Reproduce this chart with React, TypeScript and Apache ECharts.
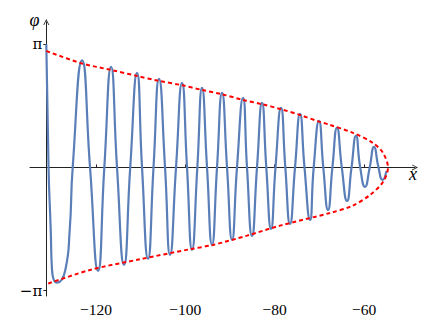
import React, { useEffect, useRef } from "react";
import * as echarts from "echarts";

// oscillation phi(x): read at start, zero crossings, peaks and troughs
const phiCurve: [number, number][] = [
  [-131.13, 3.1416], [-130.63, 0], [-130.14, -1.594], [-129.85, -2.615], [-128.73, -2.939],
  [-126.87, -2.615], [-125.89, -1.594], [-125.22, 0], [-123.13, 2.73], [-121.34, 0],
  [-119.55, -2.64], [-118.14, 0], [-116.64, 2.564], [-115.3, 0], [-113.73, -2.487],
  [-112.34, 0], [-110.82, 2.411], [-109.7, 0], [-108.36, -2.334], [-107.13, 0],
  [-105.9, 2.258], [-104.55, 0], [-103.43, -2.232], [-102.09, 0], [-100.75, 2.156],
  [-99.63, 0], [-98.51, -2.105], [-97.32, 0], [-96.27, 2.028], [-95.15, 0],
  [-94.03, -1.977], [-92.91, 0], [-91.79, 1.901], [-90.67, 0], [-89.55, -1.849],
  [-88.44, 0], [-87.09, 1.773], [-86.2, 0], [-85.08, -1.747], [-83.96, 0],
  [-82.84, 1.645], [-81.88, 0], [-80.82, -1.569], [-79.82, 0], [-78.59, 1.518],
  [-77.62, 0], [-76.57, -1.441], [-75.45, 0], [-74.33, 1.365], [-73.33, 0],
  [-72.09, -1.339], [-71.27, 0], [-70.08, 1.186], [-69.12, 0], [-68.06, -1.084],
  [-67.08, 0], [-66.05, 1.008], [-64.98, 0], [-63.81, -0.855], [-62.8, 0],
  [-61.8, 0.804], [-60.86, 0], [-59.78, -0.497], [-58.73, 0], [-57.77, 0.523],
  [-56.76, 0], [-55.86, -0.319], [-54.97, -0.089],
];

// dashed envelope, upper branch (left to tip)
const envelopeUpper: [number, number][] = [
  [-131.13, 2.97], [-123.13, 2.653], [-116.64, 2.487], [-110.82, 2.334], [-105.9, 2.207],
  [-100.75, 2.097], [-96.27, 1.977], [-91.79, 1.867], [-87.09, 1.722], [-82.84, 1.612],
  [-78.59, 1.485], [-74.33, 1.339], [-70.08, 1.168], [-68.06, 1.102], [-62.47, 0.88],
  [-57.99, 0.625], [-55.75, 0.37], [-54.63, 0],
];
// lower branch (tip back to left)
const envelopeLower: [number, number][] = [
  [-55.75, -0.37], [-58.66, -0.702], [-62.69, -0.982], [-67.62, -1.161], [-78.81, -1.485],
  [-86.2, -1.74], [-93.81, -1.977], [-98.96, -2.087], [-110.15, -2.342], [-121.34, -2.615],
  [-130.52, -2.954], [-131.13, -2.97],
];

const xTicks = [-120, -100, -80, -60];
const yTicks = [-Math.PI, Math.PI];

const FONT = "Liberation Serif";
const FONT_PI = "DejaVu Serif";
const AXIS = "#222";
const chevron = "path://M0,10 L5,0 L10,10 L8.6,10 L5,2.8 L1.4,10 Z";

export default function App() {
  const ref = useRef<HTMLDivElement>(null);
  useEffect(() => {
    const chart = echarts.init(ref.current!, null, { renderer: "svg" });
    chart.setOption({
      animation: false,
      textStyle: { fontFamily: FONT },
      grid: { left: 30, right: 21, top: 22, bottom: 21, containLabel: false },
      xAxis: {
        type: "value",
        min: -134.78,
        max: -48.59,
        axisLine: {
          onZero: true,
          lineStyle: { color: AXIS, width: 1 },
          symbol: ["none", chevron],
          symbolSize: [7, 6],
        },
        axisTick: { customValues: xTicks, inside: true, length: 3, lineStyle: { color: AXIS } },
        axisLabel: {
          customValues: xTicks,
          margin: 5,
          color: "#000",
          fontFamily: FONT,
          fontSize: 15.5,
          formatter: (v: number) => (v < 0 ? "\u2212" + Math.abs(v) : String(v)),
        },
        splitLine: { show: false },
      },
      yAxis: {
        type: "value",
        min: -3.28,
        max: 3.71,
        offset: -16.3,
        axisLine: {
          show: true,
          onZero: false,
          lineStyle: { color: AXIS, width: 1 },
          symbol: ["none", chevron],
          symbolSize: [7, 6],
        },
        axisTick: { show: true, customValues: yTicks, length: 3, lineStyle: { color: AXIS } },
        axisLabel: {
          customValues: yTicks,
          margin: 4,
          color: "#000",
          fontFamily: FONT_PI,
          fontSize: 15,
          formatter: (v: number) => (v < 0 ? "\u2212\u03c0" : "\u03c0"),
        },
        splitLine: { show: false },
      },
      series: [
        {
          type: "line",
          data: phiCurve,
          smooth: 0.55,
          showSymbol: false,
          lineStyle: { color: "#5a7fb8", width: 2.2 },
          z: 2,
        },
        {
          type: "line",
          data: [...envelopeUpper, ...envelopeLower],
          smooth: 0.3,
          showSymbol: false,
          lineStyle: { color: "#ff0000", width: 2, type: [4, 3] },
          z: 3,
        },
      ],
      graphic: [
        {
          type: "text",
          x: 34.5,
          y: 20,
          style: {
            text: "\u03c6",
            font: `italic 18px ${FONT}`,
            fill: "#000",
            align: "center",
            verticalAlign: "middle",
          },
        },
        {
          type: "text",
          x: 413,
          y: 174,
          style: {
            text: "x",
            font: `italic 18px ${FONT}`,
            fill: "#000",
            align: "center",
            verticalAlign: "middle",
          },
        },
      ],
    });
    return () => chart.dispose();
  }, []);
  return (
    <div
      ref={ref}
      style={{ position: "fixed", left: 0, top: 0, width: 436, height: 317, background: "#fff" }}
    />
  );
}
